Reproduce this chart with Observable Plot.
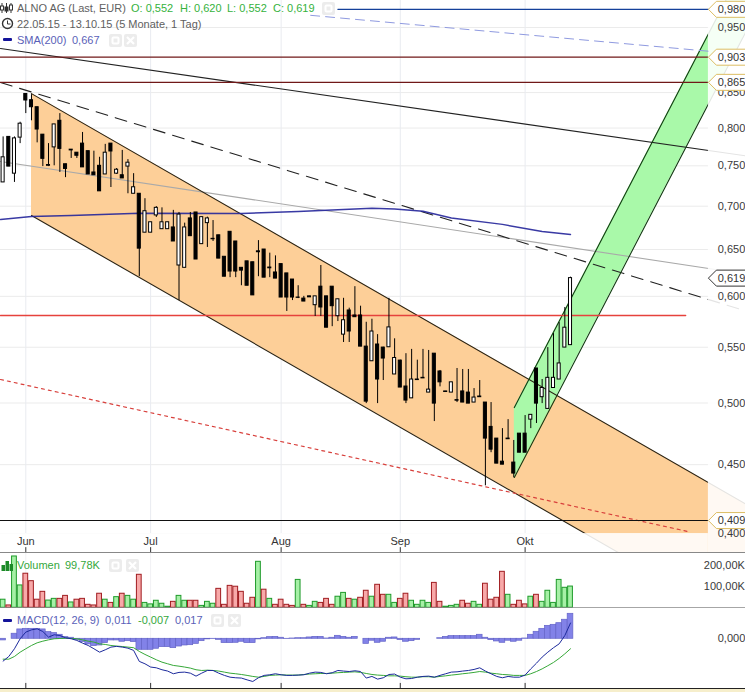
<!DOCTYPE html>
<html>
<head>
<meta charset="utf-8">
<script src="https://cdn.jsdelivr.net/npm/d3@7"></script>
<script src="https://cdn.jsdelivr.net/npm/@observablehq/plot@0.6"></script>
<style>
html,body{margin:0;padding:0;background:#fff;overflow:hidden}
#chart{position:relative;width:745px;height:692px;overflow:hidden;font-family:"Liberation Sans",Arial,sans-serif;font-size:11px}
#chart svg.plot{display:block}
.lbl{position:absolute;white-space:nowrap;line-height:14px;height:14px}
.ico{position:absolute}
</style>
</head>
<body>
<div id="chart"></div>
<script>
// Trading days, counted from 1 June 2015 = 0
const firstDay = -4, lastDay = 96;
const monthLabels = ["Jun","Jul","Aug","Sep","Okt"];
const monthDays = [0,22,45,66,88];
const priceTicks = [0.95,0.85,0.8,0.75,0.7,0.65,0.6,0.55,0.5,0.45,0.4];

const highs = [.788,.788,.788,.808,.848,.847,.829,.791,.779,.805,.820,.752,.771,.767,.794,.769,.769,.761,.778,.779,.7465,.770,.758,.740,.715,.709,.681,.6995,.698,.681,.695,.6925,.680,.6925,.6925,.687,.687,.683,.666,.642,.670,.659,.630,.637,.636,.660,.650,.646,.643,.634,.624,.6175,.611,.600,.600,.600,.6325,.600,.610,.597,.598,.588,.610,.590,.574,.577,.562,.550,.598,.558,.538,.544,.548,.538,.548,.547,.544,.5286,.510,.518,.5304,.5295,.5295,.5125,.5196,.5004,.5004,.4705,.4786,.486,.469,.4745,.4894,.490,.5304,.5205,.5497,.563,.5737,.5887,.620];
const lows = [.729,.749,.729,.779,.820,.810,.780,.749,.749,.750,.7415,.735,.7595,.7595,.748,.739,.738,.718,.739,.7227,.739,.734,.715,.715,.6205,.669,.669,.6866,.673,.673,.659,.5957,.630,.665,.639,.656,.6523,.659,.640,.6205,.6195,.6195,.611,.611,.601,.6205,.6195,.6195,.6185,.5988,.5847,.5957,.5977,.5947,.599,.5797,.5797,.5687,.5697,.5747,.5545,.5545,.579,.5506,.4995,.537,.4995,.5196,.550,.525,.5134,.4995,.504,.5196,.5214,.509,.4844,.514,.5095,.509,.5004,.5004,.4995,.5004,.505,.434,.4593,.4508,.450,.470,.440,.4593,.4593,.4786,.4828,.4995,.495,.5134,.5205,.5497,.552];
const opens = [.729,.788,.740,.787,.848,.839,.829,.791,.750,.774,.810,.752,.771,.767,.779,.769,.7415,.750,.739,.779,.740,.738,.749,.715,.715,.669,.669,.689,.673,.673,.675,.6325,.630,.6855,.6925,.656,.680,.662,.666,.642,.670,.659,.630,.637,.636,.648,.650,.6303,.625,.634,.624,.6175,.5988,.5977,.600,.591,.610,.600,.610,.580,.562,.5857,.5807,.5807,.5506,.537,.5526,.5497,.550,.525,.5376,.5143,.504,.5205,.522,.509,.544,.5277,.510,.509,.5025,.510,.509,.5004,.5056,.5004,.480,.4705,.4523,.4705,.4516,.4745,.4745,.486,.5304,.505,.495,.513,.5205,.5497,.552];
const closes = [.761,.749,.786,.806,.8386,.829,.798,.759,.751,.805,.772,.746,.770,.763,.748,.739,.738,.718,.767,.7686,.745,.734,.754,.723,.651,.694,.681,.698,.681,.681,.659,.690,.675,.665,.639,.687,.6855,.6615,.640,.6205,.626,.626,.627,.611,.601,.647,.6195,.6295,.6185,.5988,.5988,.5988,.5985,.5947,.599,.600,.5887,.5687,.590,.597,.576,.565,.579,.5506,.5012,.565,.5205,.5395,.569,.540,.5134,.5021,.5205,.5200,.5215,.5116,.4995,.518,.5095,.518,.502,.5004,.4995,.5047,.505,.4705,.4617,.4508,.450,.470,.4432,.4593,.4593,.490,.4995,.513,.522,.522,.535,.5687,.619];

const smaDays = [-4.46,1,8,20,38,48,54,61,65,70,75,84,91,96];
const smaValues = [.6843,.6877,.6889,.6916,.6913,.6936,.6954,.6975,.6966,.694,.686,.6785,.6703,.6669];

// volume in thousands, and whether the bar is a rising (g) or falling (r) day
const volumes = [38,11,241,105,160,125,38,75,34,42,42,56,25,38,42,14,11,66,38,23,50,66,56,38,155,23,16,33,19,5,28,56,33,33,33,9,28,19,89,14,103,99,75,19,47,216,85,42,14,38,14,9,131,14,9,28,23,42,14,52,70,42,38,47,80,52,108,61,61,23,42,66,33,14,33,23,117,28,5,9,14,33,19,28,14,113,38,47,169,61,14,33,16,52,61,28,80,23,131,94,99.78];
const volumeDirs = "grggrrrrggrrgrrrrrgrgrggrgggggrggrrgggrrrrrrrgrgrrrrgrggrrrggrgrrgrrggrrggggrrgggrrggrrrrgrrrgrgggggg";

// MACD panel, in thousandths
const macdHist = [-1.1,0,3.4,6.3,6.7,6.7,6.7,6.3,4.5,3.8,2.7,1.1,.7,-.7,-2.2,-3.8,-4.9,-4.5,-2.9,-1.1,-1.1,-2,-1.6,-2.2,-7.4,-7.4,-7.4,-6.7,-5.6,-5.6,-6.3,-5.2,-4.5,-4.3,-3.4,-1.6,-.4,-.2,-.7,-2.9,-2.9,-2.7,-2,-2.9,-2.9,-.4,.4,1.1,1.3,.7,-.2,.2,.4,.4,.9,1.3,1.3,.2,.7,2,1.3,.7,1.3,0,-3.4,-1.3,-2.7,-2,.7,.9,-.9,-2,-1.6,-.7,0,0,0,.4,1.3,1.8,1.8,1.8,1.8,1.8,2.7,.7,-.9,-1.8,-2.7,-1.3,-2,-1.3,.2,2.7,4.7,6.7,8.7,9.4,10.5,12.8,16.8];
const macdLine = [-15,-11.9,-6.7,0,4.5,6,6.7,4.9,1.1,2.7,2.2,.7,0,-1.1,-2.9,-4.5,-6.7,-9,-7.4,-5.6,-5.1,-5.6,-6.3,-7.8,-15.2,-16.8,-19,-19.5,-20.8,-21.7,-23.5,-22.6,-22.4,-23.1,-25.1,-23.1,-21.3,-21.3,-23.1,-24.6,-25.8,-26.2,-26.4,-27.6,-28.7,-26.2,-24.6,-24.2,-23.5,-24.2,-24.6,-24.6,-24.4,-24.2,-23.1,-22.4,-22.6,-23.5,-22.8,-21.3,-21.7,-22,-21.5,-22,-26.4,-25.3,-27.1,-26.2,-24,-23.7,-25.8,-26.9,-26.7,-25.8,-25.3,-25.1,-25.8,-24.6,-23.5,-22.4,-22.2,-21.7,-21.3,-20.6,-19.5,-21.7,-23.5,-25.3,-26.2,-25.3,-25.8,-25.8,-24.4,-20.2,-16.4,-12.3,-9,-6,-3.4,2.2,10.6];
const macdSignal = [-13.7,-13.7,-11.9,-9,-6.7,-4.5,-2.7,-1.6,-.7,0,.2,.4,.2,0,-.7,-1.6,-2.2,-3.4,-3.8,-4.5,-4.9,-5.2,-5.6,-6,-8.5,-10.5,-12.3,-14.1,-15.7,-16.8,-17.9,-18.4,-19,-19.7,-20.8,-21.3,-21.1,-21.3,-21.7,-22.4,-23.1,-23.5,-24,-24.6,-25.3,-25.8,-25.3,-24.6,-24.4,-24.2,-24.4,-24.4,-24.4,-24,-23.7,-23.5,-23.3,-23.3,-23.1,-22.8,-22.6,-22.4,-22.2,-22.6,-23.3,-24,-24.4,-24.6,-24.9,-24.9,-25.1,-25.5,-25.8,-25.8,-25.5,-25.5,-25.8,-25.3,-24.9,-24.4,-24,-23.5,-23.1,-22.6,-22,-22.4,-23.1,-23.5,-24,-24.2,-24.6,-24.6,-24.6,-23.5,-22,-20.2,-18.1,-15.9,-13.2,-10.1,-6.7];

// Drawn trend lines and levels: [day, price] ends
const xMin = -4.46, xMax = 126.84, drawEnd = 120.3;
const orangeChannel = [{d:1,top:.8485,bot:.6889},{d:xMax,top:.4208,bot:.3418}];
const greenChannel = [{d:86.1,top:.4961,bot:.4402},{d:xMax,top:1.0616,bot:.9419}];
const blackTrend = [[xMin,.9165],[xMax,.7629]];
const dashedTrend = [[xMin,.8648],[xMax,.5853]];
const greyTrend = [[xMin,.7556],[xMax,.6233]];
const blueDashTrend = [[50.2,.9700],[drawEnd,.9123]];
const redDotTrend = [[xMin,.5205],[116.7,.4014]];
const topLevel = [[55,.98],[drawEnd,.98]];
const redLevel = [[xMin,.5807],[116.3,.5807]];
const maroonLevels = [.903,.865];
const blackLevel = .409;
const priceTags = [{v:.98,c:"#dcbd63"},{v:.903,c:"#dcbd63"},{v:.865,c:"#dcbd63"},{v:.619,c:"#333"},{v:.409,c:"#dcbd63"}];
const axisLabelDay = 121.95, volumeLabelDay = 119.5;
const volumeTicks = [100,200];

const comma = s => s.replace(".", ",");
const fmtPrice = v => comma(d3.format(".3f")(v));
const fmtK = v => comma(d3.format(".2f")(v)) + "K";

const days = d3.range(firstDay, lastDay + 1);
const candles = days.map((d,i) => ({d, h:highs[i], l:lows[i], o:opens[i], c:closes[i], up:closes[i] >= opens[i]}));
const vols = days.map((d,i) => ({d, v:volumes[i], up:volumeDirs[i] === "g"}));
const macd = days.map((d,i) => ({d, hist:macdHist[i], line:macdLine[i], sig:macdSignal[i]}));
const sma = smaDays.map((d,i) => [d, smaValues[i]]);
const xScale = {domain:[xMin,xMax], range:[0,745], axis:null};
const font = "Liberation Sans, Arial, sans-serif";
const tagSymbol = {draw(c){ c.moveTo(0,0); c.lineTo(8,-8); c.lineTo(44,-8); c.lineTo(44,8); c.lineTo(8,8); c.closePath(); }};

const priceBottom = .3866, priceTop = .9949, axisFloor = .3872;
const pricePlot = Plot.plot({
  width:745, height:553, margin:0, style:{fontFamily:font, background:"#fff"},
  x:xScale,
  y:{type:"log", domain:[priceTop,priceBottom], range:[0,553], axis:null},
  marks:[
    Plot.ruleY(priceTicks,{stroke:"#ebebeb"}),
    Plot.ruleX(monthDays,{stroke:"#e9ebf0"}),
    Plot.areaY(orangeChannel,{x:"d",y1:"top",y2:"bot",fill:"#fdcf98",clip:true}),
    Plot.areaY(greenChannel,{x:"d",y1:"top",y2:"bot",fill:"#a9f9a9",clip:true}),
    Plot.line(greyTrend,{stroke:"#a9a9a9",strokeWidth:1.1,clip:true}),
    Plot.line(blackTrend,{stroke:"#222",strokeWidth:1.1,clip:true}),
    Plot.line(dashedTrend,{stroke:"#222",strokeWidth:1.1,strokeDasharray:"12 8",clip:true}),
    Plot.line(orangeChannel,{x:"d",y:"top",stroke:"#2a2212",strokeWidth:1.1,clip:true}),
    Plot.line(orangeChannel,{x:"d",y:"bot",stroke:"#2a2212",strokeWidth:1.1,clip:true}),
    Plot.line(greenChannel,{x:"d",y:"top",stroke:"#123c12",strokeWidth:1.1,clip:true}),
    Plot.line(greenChannel,{x:"d",y:"bot",stroke:"#123c12",strokeWidth:1.1,clip:true}),
    // faded zones right of and below the drawing area
    Plot.rect([{x1:drawEnd,x2:xMax,y1:priceTop,y2:priceBottom},{x1:xMin,x2:drawEnd,y1:.4,y2:priceBottom}],
      {x1:"x1",x2:"x2",y1:"y1",y2:"y2",fill:"#fff",fillOpacity:.88}),
    Plot.line(redDotTrend,{stroke:"#d8403c",strokeWidth:1.2,strokeDasharray:"3 4"}),
    Plot.line(blueDashTrend,{stroke:"#8f9ae0",strokeWidth:1,strokeDasharray:"9 6"}),
    Plot.line(topLevel,{stroke:"#14409a",strokeWidth:1.2}),
    Plot.ruleY(maroonLevels,{x1:xMin,x2:drawEnd,stroke:"#701818",strokeWidth:1.2}),
    Plot.ruleY([blackLevel],{x1:xMin,x2:drawEnd,stroke:"#111",strokeWidth:1.1}),
    Plot.line(redLevel,{stroke:"#e6423c",strokeWidth:1.3}),
    Plot.line(sma,{stroke:"#23259a",strokeWidth:1.4,opacity:.9}),
    Plot.ruleX(candles,{x:"d",y1:"l",y2:"h",stroke:"#000",strokeWidth:1}),
    Plot.rect(candles,{x1:d=>d.d-.27,x2:d=>d.d+.27,y1:"o",y2:"c",fill:d=>d.up?"#fff":"#000",stroke:"#000",strokeWidth:1}),
    Plot.text(priceTicks,{x:axisLabelDay,y:d=>d,text:fmtPrice,textAnchor:"start",fontSize:11,fill:"#3a3a3a"}),
    Plot.dot(priceTags,{x:drawEnd,y:"v",symbol:tagSymbol,stroke:"c",fill:"#fff",strokeWidth:1}),
    Plot.text(priceTags,{x:axisLabelDay,y:"v",text:d=>fmtPrice(d.v),textAnchor:"start",fontSize:11,fill:"#333"}),
    Plot.text(monthLabels,{x:(d,i)=>monthDays[i],y:()=>.3945,text:d=>d,fontSize:11,fill:"#333"}),
    Plot.ruleX(monthDays,{y1:.3905,y2:axisFloor,stroke:"#333"}),
    Plot.ruleY([axisFloor],{stroke:"#888",strokeWidth:1.2})
  ]
});

const volumePlot = Plot.plot({
  width:745, height:55, margin:0, style:{fontFamily:font, background:"#fff"},
  x:xScale,
  y:{domain:[0,255], range:[54.3,0], axis:null},
  marks:[
    Plot.ruleX(monthDays,{stroke:"#f1f1f4"}),
    Plot.rect(vols,{x1:d=>d.d-.42,x2:d=>d.d+.42,y1:0,y2:"v",
      fill:d=>d.up?"#a6f0a6":"#f8a9a9",stroke:d=>d.up?"#1e9a2a":"#a01c20",strokeWidth:1}),
    Plot.text(volumeTicks,{x:volumeLabelDay,y:d=>d,text:fmtK,textAnchor:"start",fontSize:11,fill:"#3a3a3a"}),
    Plot.ruleY([0],{stroke:"#888",strokeWidth:1.2})
  ]
});

const macdFloor = -33.4;
const macdPlot = Plot.plot({
  width:745, height:84, margin:0, style:{fontFamily:font, background:"#fff"},
  x:xScale,
  y:{domain:[20.36,-36.1], range:[0,84], axis:null},
  marks:[
    Plot.ruleX(monthDays,{stroke:"#f1f1f4"}),
    Plot.rect(macd,{x1:d=>d.d-.5,x2:d=>d.d+.5,y1:0,y2:"hist",fill:"#8282e8",stroke:"#6464c8",strokeWidth:.7}),
    Plot.line(macd,{x:"d",y:"sig",stroke:"#36a838",strokeWidth:1}),
    Plot.line(macd,{x:"d",y:"line",stroke:"#1c2a9c",strokeWidth:1}),
    Plot.text([0],{x:axisLabelDay,y:d=>d,text:d=>fmtPrice(d),textAnchor:"start",fontSize:11,fill:"#3a3a3a"}),
    Plot.ruleX(monthDays,{y1:-30,y2:macdFloor,stroke:"#333"}),
    Plot.rect([0],{x1:xMin,x2:xMax,y1:macdFloor,y2:-36.1,fill:"#f6eecb"}),
    Plot.ruleY([macdFloor],{stroke:"#222",strokeWidth:1.2})
  ]
});

const root = document.getElementById("chart");
root.append(pricePlot, volumePlot, macdPlot);

const legend = [
  ["ALNO AG (Last, EUR)",17,1,"#5f5f5f"],["O: 0,552",131,1,"#35b23c"],["H: 0,620",180,1,"#35b23c"],["L: 0,552",227,1,"#35b23c"],["C: 0,619",273,1,"#35b23c"],
  ["22.05.15 - 13.10.15 (5 Monate, 1 Tag)",17,17,"#5f5f5f"],
  ["SMA(200)",17,33,"#5a5fb8"],["0,667",72,33,"#5a5fb8"],
  ["Volumen",17,558,"#35a83c"],["99,78K",65,558,"#35a83c"],
  ["MACD(12, 26, 9)",17,613,"#5a5fb8"],["0,011",105,613,"#5a5fb8"],["-0,007",138,613,"#35a83c"],["0,017",175,613,"#5a5fb8"]
];
for (const [t,x,y,c] of legend) {
  const s = document.createElement("div");
  s.className = "lbl"; s.textContent = t;
  s.style.cssText = `left:${x}px;top:${y}px;color:${c}`;
  root.append(s);
}
function ico(x,y,w,h,body){
  const d = document.createElement("div"); d.className="ico";
  d.style.cssText = `left:${x}px;top:${y}px;width:${w}px;height:${h}px`;
  d.innerHTML = `<svg width="${w}" height="${h}" viewBox="0 0 ${w} ${h}" style="display:block">${body}</svg>`;
  root.append(d);
}
const gear = `<rect width="13" height="13" rx="2" fill="#ececec"/><rect x="3.5" y="3.5" width="6" height="6" rx="1" fill="none" stroke="#fff" stroke-width="2"/>`;
const cross = `<rect width="13" height="13" rx="2" fill="#ececec"/><path d="M3 3L10 10M10 3L3 10" stroke="#fff" stroke-width="2.2"/>`;
for (const [x,y] of [[322,2],[109,34],[109,559],[211,614]]) ico(x,y,13,13,gear);
for (const [x,y] of [[124,34],[126,559],[228,614]]) ico(x,y,13,13,cross);
// candle glyph, clock glyph, series swatches
ico(0,2,13,12,`<path d="M2 1V11M6.5 1V11M11 1V11" stroke="#333"/><rect x="0.5" y="4" width="3" height="4" fill="#fff" stroke="#333"/><rect x="5" y="5" width="3" height="4" fill="#333" stroke="#333"/><rect x="9.5" y="3" width="3" height="5" fill="#fff" stroke="#333"/>`);
ico(1,17,13,13,`<circle cx="6.5" cy="6.5" r="5" fill="none" stroke="#333" stroke-width="1.4"/><path d="M6.5 3.5V7H9.5" fill="none" stroke="#333"/>`);
ico(3,38,9,4,`<rect width="9" height="3" rx="1" fill="#14149a"/>`);
ico(1,560,13,11,`<rect x="0.5" y="5" width="3.5" height="6" fill="#1c8a28"/><rect x="4.5" y="1" width="3.5" height="10" fill="#1c8a28"/><rect x="8.5" y="4" width="3.5" height="7" fill="#1c8a28"/>`);
ico(3,619,9,4,`<rect width="9" height="3" rx="1" fill="#14149a"/>`);
</script>
</body>
</html>
